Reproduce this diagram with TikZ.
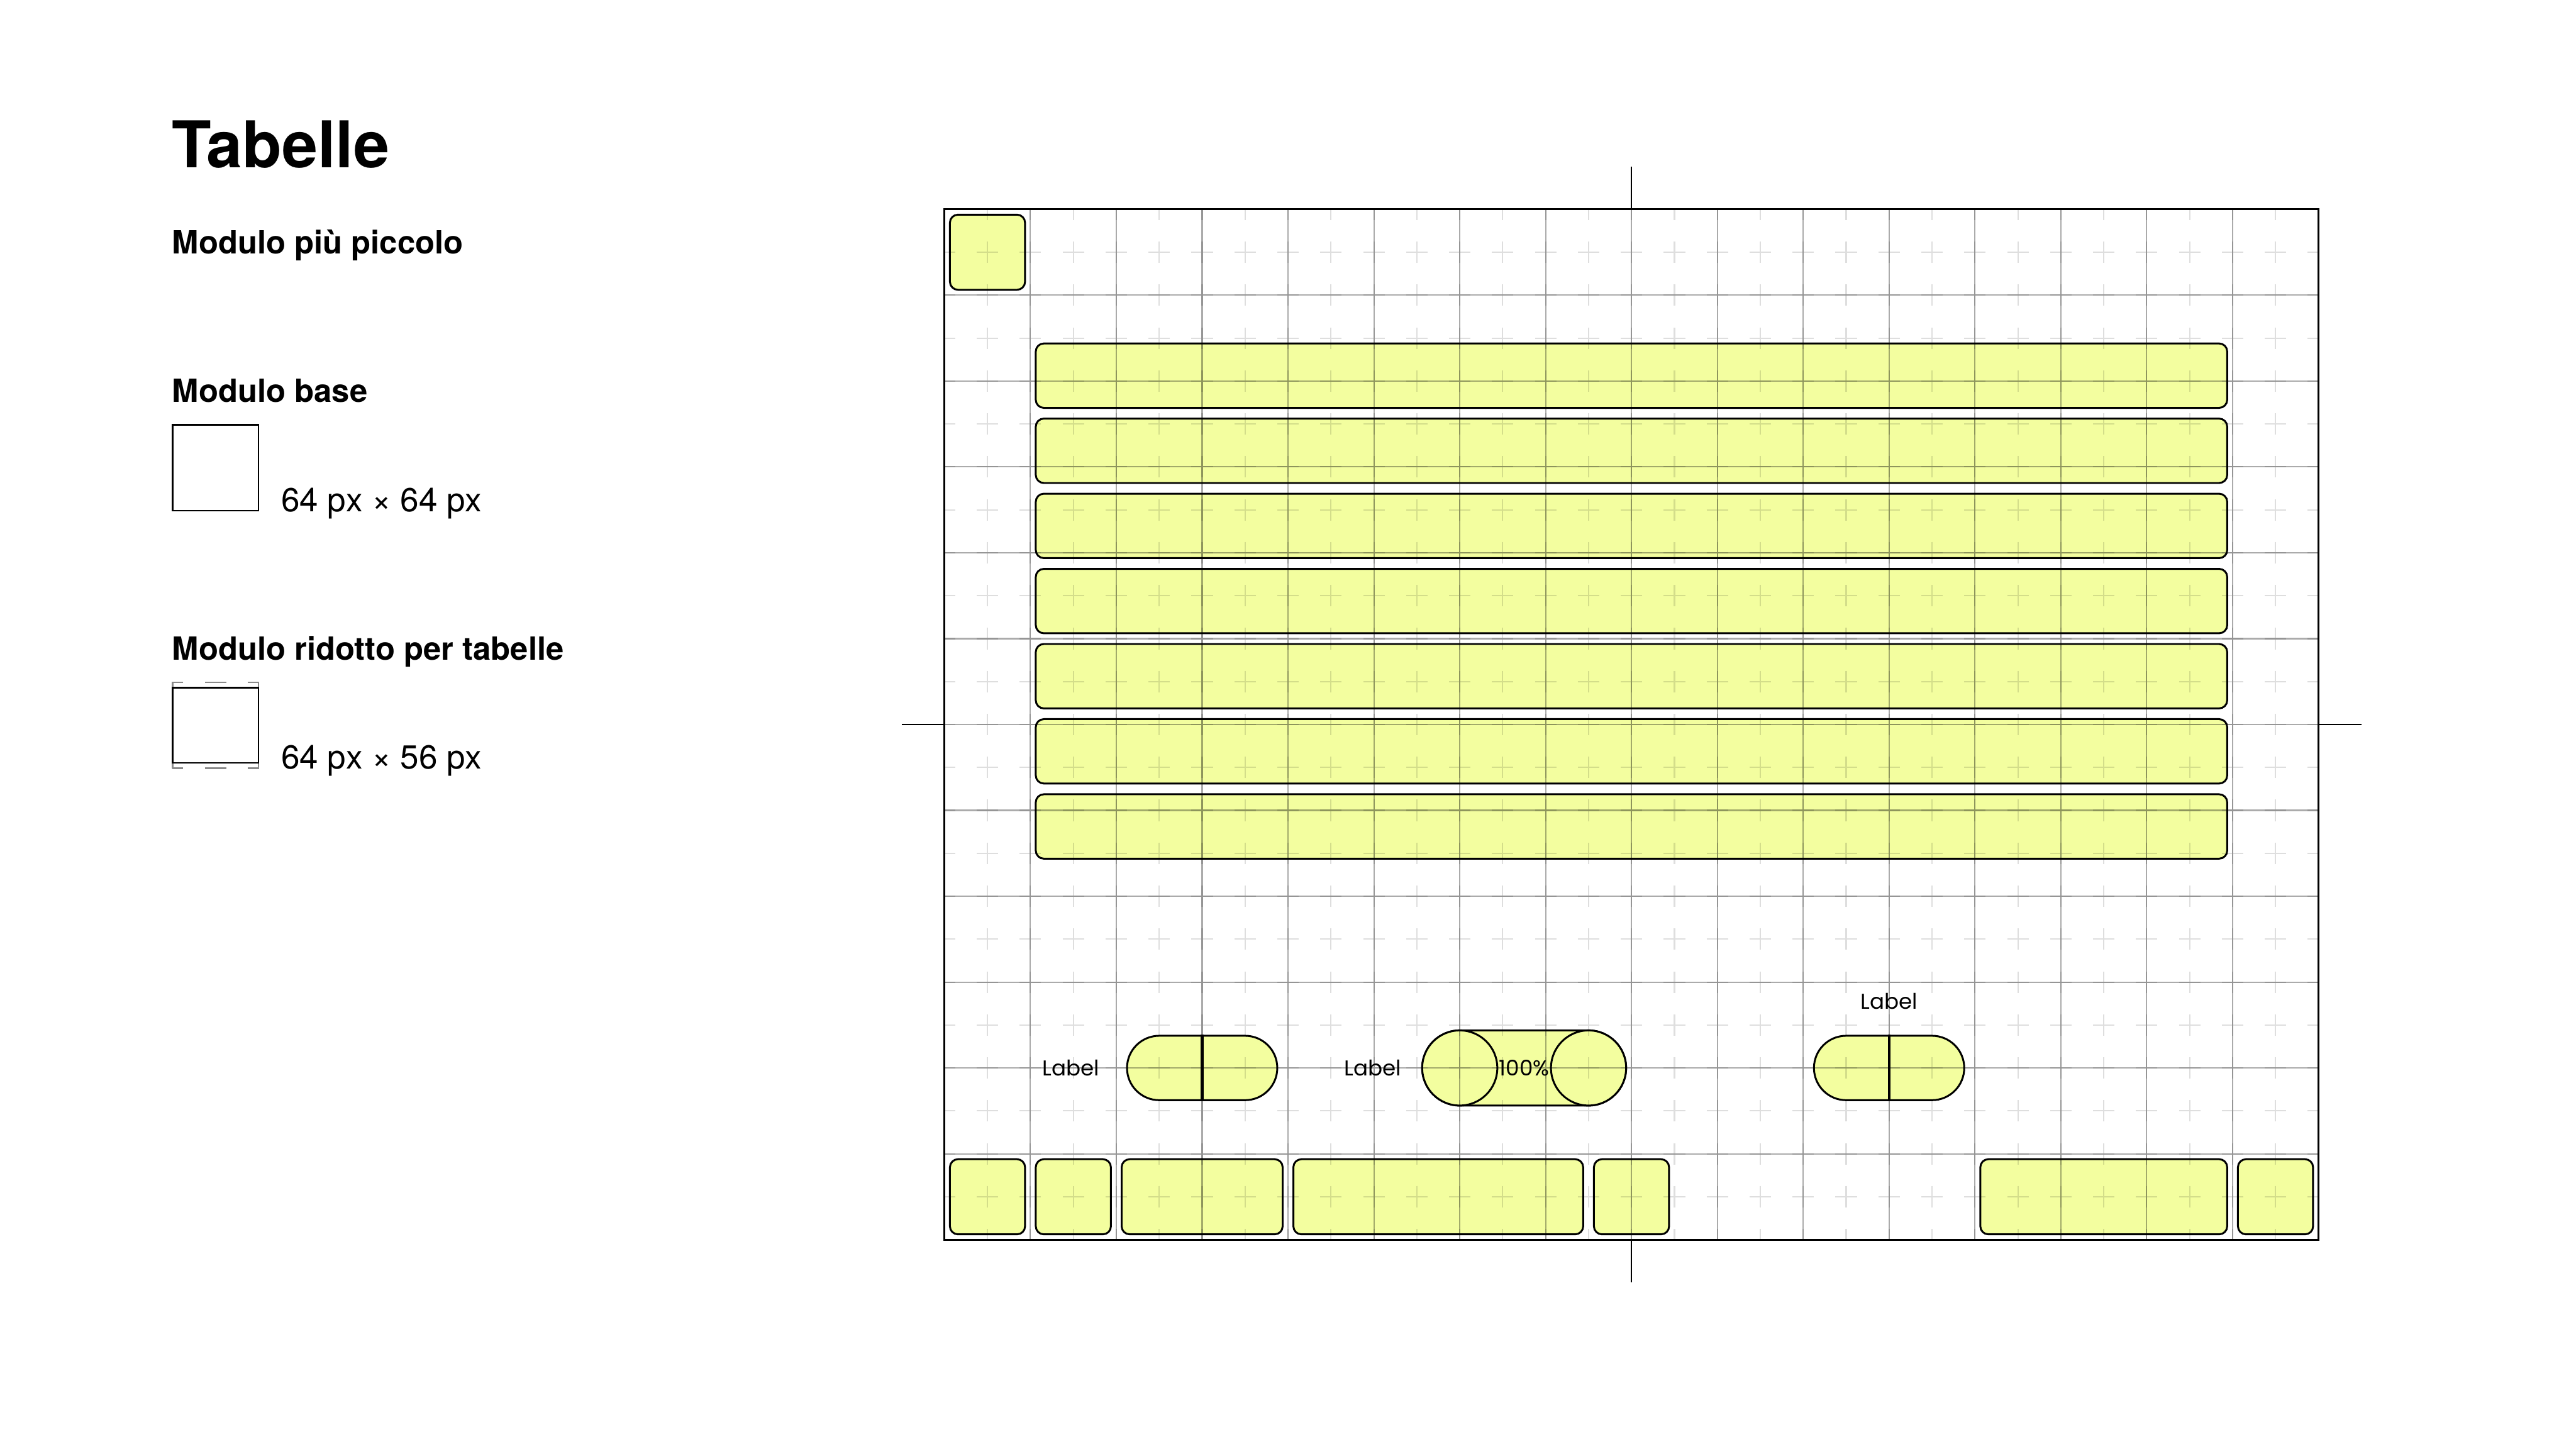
\documentclass[tikz,border=0pt]{standalone}
\usepackage{fontspec}
\setmainfont{TeX Gyre Heros}
\newfontfamily\tagfont{Poppins}
\usetikzlibrary{positioning}
\definecolor{cellyellow}{HTML}{F3FE9F}
\definecolor{dashgray}{HTML}{8A8A8A}

\begin{document}
\begin{tikzpicture}[
  x=0.5pt, y=-0.5pt,
  pagetitle/.style={
    anchor=base west, inner sep=0pt,
    font=\fontsize{24pt}{28pt}\selectfont\bfseries
  },
  heading/.style={
    anchor=base west, inner sep=0pt,
    font=\fontsize{11.9pt}{14pt}\selectfont\bfseries
  },
  dimension/.style={
    anchor=base west, inner sep=0pt,
    font=\fontsize{12.4pt}{14pt}\selectfont
  },
  sample/.style={
    rectangle, draw=black, line width=0.6pt, inner sep=0pt,
    minimum width=32pt
  },
  slot/.style={
    rectangle, draw=dashgray, line width=0.6pt, inner sep=0pt,
    minimum width=32pt, minimum height=32pt,
    dash pattern=on 8pt off 8pt, dash phase=4pt
  },
  cell/.style={
    draw=black, line width=0.7pt, fill=cellyellow, rounded corners=3pt
  },
  pill/.style={
    rectangle, draw=black, line width=0.7pt, fill=cellyellow,
    rounded corners=#1, inner sep=0pt
  },
  knob/.style={draw=black, line width=0.7pt, fill=cellyellow},
  divider/.style={draw=black, line width=0.95pt},
  fieldtag/.style={
    inner sep=0pt, outer sep=0pt,
    font=\tagfont\fontsize{8pt}{9pt}\selectfont
  },
  gridline/.style={draw=black, draw opacity=0.33, line width=0.5pt},
  gridcross/.style={draw=black, draw opacity=0.13, line width=0.5pt},
  outerframe/.style={draw=black, line width=0.75pt},
  crosstick/.style={draw=black, line width=0.6pt},
]
\useasboundingbox (0,0) rectangle (1920,1080);

% Left column
\node[pagetitle] (title) at (128,125) {Tabelle};
\node[heading] (smallest) at (128,189) {Modulo più piccolo};

\node[heading] (base) at (128,300) {Modulo base};
\node[sample, minimum height=32pt, anchor=north west] (basebox) at (128,316) {};
\node[dimension] (basesize) at ([xshift=8pt]basebox.south east) {64 px × 64 px};

\node[heading] (reduced) at (128,492) {Modulo ridotto per tabelle};
\node[slot, anchor=north west] (reducedslot) at (128,508) {};
\node[sample, minimum height=28pt] (reducedbox) at (reducedslot.center) {};
\node[dimension] (reducedsize) at ([xshift=8pt]reducedslot.south east) {64 px × 56 px};

% Yellow modules
\draw[cell] (708,160) rectangle (764,216);
\foreach \i in {0,...,6}
  \draw[cell] (772,256+56*\i) rectangle (1660,304+56*\i);
\foreach \xa/\xb in {708/764, 772/828, 836/956, 964/1180, 1188/1244, 1476/1660, 1668/1724}
  \draw[cell] (\xa,864) rectangle (\xb,920);

% Toggles
\node[pill=12pt, minimum width=56pt, minimum height=24pt] (leftpill) at (896,796) {};
\draw[divider] (leftpill.north) -- (leftpill.south);

\node[pill=14pt, minimum width=76pt, minimum height=28pt] (midpill) at (1136,796) {};
\draw[knob] (1088,796) circle (28);
\draw[knob] (1184,796) circle (28);

\node[pill=12pt, minimum width=56pt, minimum height=24pt] (rightpill) at (1408,796) {};
\draw[divider] (rightpill.north) -- (rightpill.south);

% Grid
\begin{scope}
  \clip (704,156) rectangle (1728,924);
  \draw[gridcross] \foreach \cx in {704,736,...,1728} {
    \foreach \cy in {156,188,...,924} {
      (\cx-8,\cy) -- (\cx+8,\cy) (\cx,\cy-8) -- (\cx,\cy+8)
    }
  };
\end{scope}
\draw[gridline]
  \foreach \gx in {768,832,...,1664} {(\gx,156) -- (\gx,924)}
  \foreach \gy in {220,284,...,860} {(704,\gy) -- (1728,\gy)};

% Frame and centre marks
\draw[outerframe] (704,156) rectangle (1728,924);
\draw[crosstick] (1216,124) -- (1216,156) (1216,924) -- (1216,956)
  (672,540) -- (704,540) (1728,540) -- (1760,540);

% Toggle labels
\node[fieldtag, left=10pt of leftpill] (lefttag) {Label};
\node[fieldtag, left=7.5pt of midpill] (midtag) {Label};
\node[fieldtag] (percent) at (midpill.center) {100\%};
\node[fieldtag, above=9.5pt of rightpill] (righttag) {Label};

\end{tikzpicture}
\end{document}
